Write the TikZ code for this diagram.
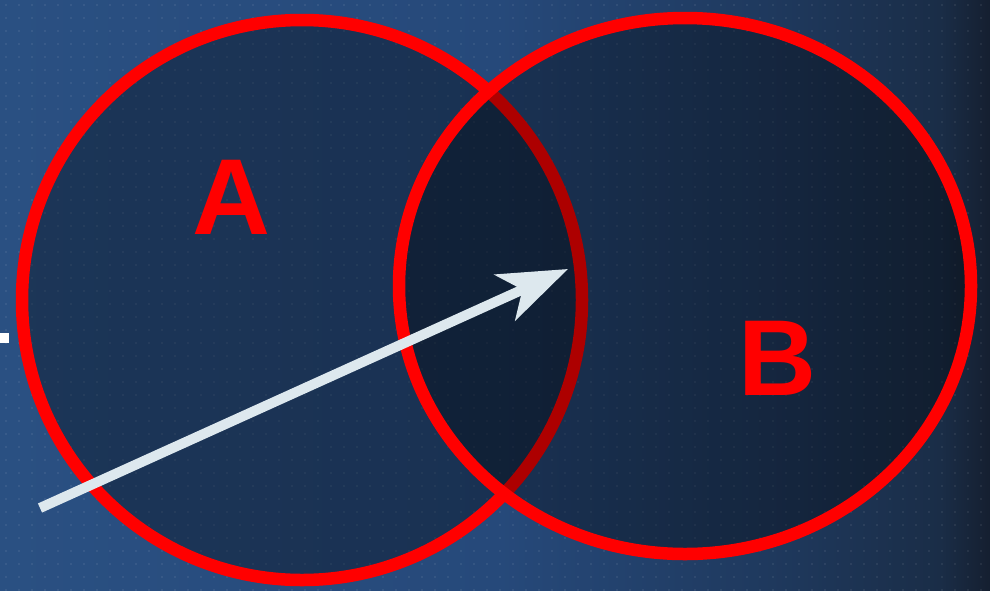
\documentclass[tikz,border=0pt]{standalone}
\usepackage{fontspec}
\setmainfont{Liberation Sans}
\usetikzlibrary{arrows.meta}
\definecolor{bg0}{HTML}{2A5082}
\definecolor{bg1}{HTML}{26497A}
\definecolor{bg2}{HTML}{1E375A}
\definecolor{bg3}{HTML}{1A2D47}
\definecolor{bg4}{HTML}{151F30}
\definecolor{arrowc}{HTML}{DDE8EE}
\definecolor{vred}{HTML}{FF0000}
\pgfdeclarehorizontalshading{bgshade}{100bp}{color(0bp)=(bg0); color(25bp)=(bg0); color(50.25bp)=(bg1); color(65.4bp)=(bg2); color(72.5bp)=(bg3); color(75bp)=(bg4); color(100bp)=(bg4)}
\tikzset{
  ring/.style={draw=vred, line width=12.5pt},
  shadefill/.style={fill=black, fill opacity=0.32},
  letter/.style={text=vred, font=\fontsize{108}{108}\selectfont\bfseries, inner sep=0pt},
  pointer/.style={draw=arrowc, line width=10pt, -{Stealth[length=69pt, width=50pt, inset=19pt, fill=arrowc]}},
  griddot/.style={fill=white, fill opacity=0.09}
}
\begin{document}
\begin{tikzpicture}[x=1pt, y=-1pt]
\useasboundingbox (0,0) rectangle (990,590);
\shade[shading=bgshade] (0,0) rectangle (990,590);
\foreach \i in {0,...,75} {
  \foreach \j in {0,...,45} {
    \fill[griddot] ({6+13*\i},{5+13*\j}) circle (1.1);
  }
}
% left white mark
\fill[white] (0,333) rectangle (9,343);
% circle A
\fill[shadefill] (302,300) circle [radius=280];
\draw[ring] (302,300) circle [radius=280];
% circle B
\fill[shadefill] (685,286) ellipse [x radius=286, y radius=268];
\draw[ring] (685,286) ellipse [x radius=286, y radius=268];
% labels
\node[letter] (labA) at (231,197) {A};
\node[letter] (labB) at (777,358) {B};
% arrow
\coordinate (tail) at (40,508);
\coordinate (tip) at (568,269);
\draw[pointer] (tail) -- (tip);
\end{tikzpicture}
\end{document}
